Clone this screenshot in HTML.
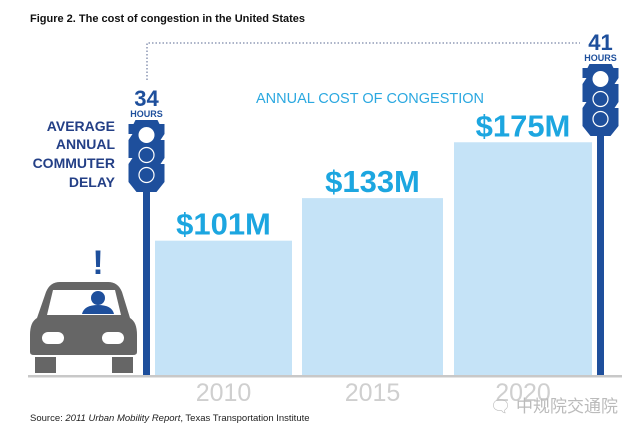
<!DOCTYPE html>
<html><head><meta charset="utf-8"><style>
body{margin:0;background:#fff;width:640px;height:442px;overflow:hidden;font-family:"Liberation Sans",sans-serif}
svg{display:block}
</style></head><body>
<svg id="chart" width="640" height="442" viewBox="0 0 640 442">
<text x="30" y="22" font-size="11" font-weight="bold" fill="#111">Figure 2. The cost of congestion in the United States</text>
<polyline points="147,80 147,43 580,43" fill="none" stroke="#7a86a8" stroke-width="1.3" stroke-dasharray="1.5,2"/>
<text x="370" y="103" text-anchor="middle" font-size="14.5" fill="#2ba8e0">ANNUAL COST OF CONGESTION</text>
<g font-size="14" font-weight="bold" fill="#233f86" text-anchor="end">
<text x="115" y="131">AVERAGE</text><text x="115" y="149">ANNUAL</text><text x="115" y="168">COMMUTER</text><text x="115" y="187">DELAY</text></g>
<g id="bars"></g>
<g id="lights"></g>
<rect x="28" y="375" width="594" height="2.5" fill="#c8c8c8"/>
<g>
<text x="98" y="274" text-anchor="middle" font-size="34" font-weight="bold" fill="#1e4f9c">!</text>
<path d="M60,282 H108 Q118,282 122,292 L130,318 Q137,322 137,335 V352 Q137,355 133,355 H34 Q30,355 30,352 V335 Q30,322 37,318 L46,292 Q50,282 60,282 Z" fill="#666"/>
<path d="M53,290 H115 L121,315 H47 Z" fill="#fff"/>
<circle cx="98" cy="298" r="7" fill="#1e4f9c"/>
<path d="M82,314 Q84,305 98,305 Q112,305 114,314 Z" fill="#1e4f9c"/>
<rect x="42" y="332" width="22" height="12" rx="6" fill="#fff"/>
<rect x="102" y="332" width="22" height="12" rx="6" fill="#fff"/>
<rect x="35" y="357" width="21" height="16" fill="#666"/>
<rect x="112" y="357" width="21" height="16" fill="#666"/>
</g>
<text x="30" y="421" font-size="9.5" fill="#222">Source: <tspan font-style="italic">2011 Urban Mobility Report</tspan>, Texas Transportation Institute</text>
<text x="618" y="412" text-anchor="end" font-size="17" fill="#bbb" font-family="'Liberation Sans','Noto Sans CJK SC',sans-serif">🗨 中规院交通院</text>
</svg>
<script>
const years=["2010","2015","2020"];
const costs=[101,133,175];
const costLabels=["$101M","$133M","$175M"];
const hourYears=["2010","2020"];
const hours=[34,41];
const NS="http://www.w3.org/2000/svg";
const base=375, pxPer=1.33;
const barX=[155,302,454], barW=[137,141,138];
function y(v){return base-v*pxPer;}
const g=document.getElementById('bars');
function mk(t,a,p){const e=document.createElementNS(NS,t);for(const k in a)e.setAttribute(k,a[k]);p.appendChild(e);return e;}
costs.forEach((v,i)=>{
 const r=mk('rect',{x:barX[i],y:y(v),width:barW[i],height:base-y(v),fill:'#c5e3f7'},g);
 
 
 const cx=barX[i]+barW[i]/2;
 const t=mk('text',{x:cx,y:y(v)-6,'text-anchor':'middle','font-size':31,'font-weight':'bold',fill:'#1ca6e0'},g);
 t.textContent=costLabels[i];
 
 
 const yl=mk('text',{x:cx,y:401,'text-anchor':'middle','font-size':25,fill:'#cfcfcf'},g);
 yl.textContent=years[i];
 
 
});
// traffic lights: head top derived from hours
const lg=document.getElementById('lights');
const poleX=[146.5,600.5];
const headTop=[120,64];
hours.forEach((h,i)=>{
 const cx=poleX[i], top=headTop[i];
 const grp=mk('g',{},lg);
 
 
 mk('rect',{x:cx-3.5,y:top+60,width:7,height:base-top-60,fill:'#1e4f9c'},grp);
 mk('path',{d:`M${cx-11},${top} H${cx+11} L${cx+13},${top+4} H${cx+18} V${top+14} L${cx+14},${top+20} H${cx+18} V${top+38} L${cx+14},${top+44} H${cx+18} V${top+62} L${cx+10},${top+72} H${cx-10} L${cx-18},${top+62} V${top+44} L${cx-14},${top+38} H${cx-18} V${top+20} L${cx-14},${top+14} H${cx-18} V${top+4} H${cx-13} Z`,fill:'#1e4f9c'},grp);
 mk('circle',{cx:cx,cy:top+15,r:8,fill:'#fff'},grp);
 mk('circle',{cx:cx,cy:top+35,r:7.5,fill:'none',stroke:'#fff','stroke-width':1.2},grp);
 mk('circle',{cx:cx,cy:top+55,r:7.5,fill:'none',stroke:'#fff','stroke-width':1.2},grp);
 const n=mk('text',{x:cx,y:top-14,'text-anchor':'middle','font-size':22,'font-weight':'bold',fill:'#1e4f9c'},grp);
 n.textContent=h;
 
 
 const hl=mk('text',{x:cx,y:top-3,'text-anchor':'middle','font-size':9,'font-weight':'bold',fill:'#1e4f9c'},grp);
 hl.textContent='HOURS';
 
 
});
</script>
</body></html>
